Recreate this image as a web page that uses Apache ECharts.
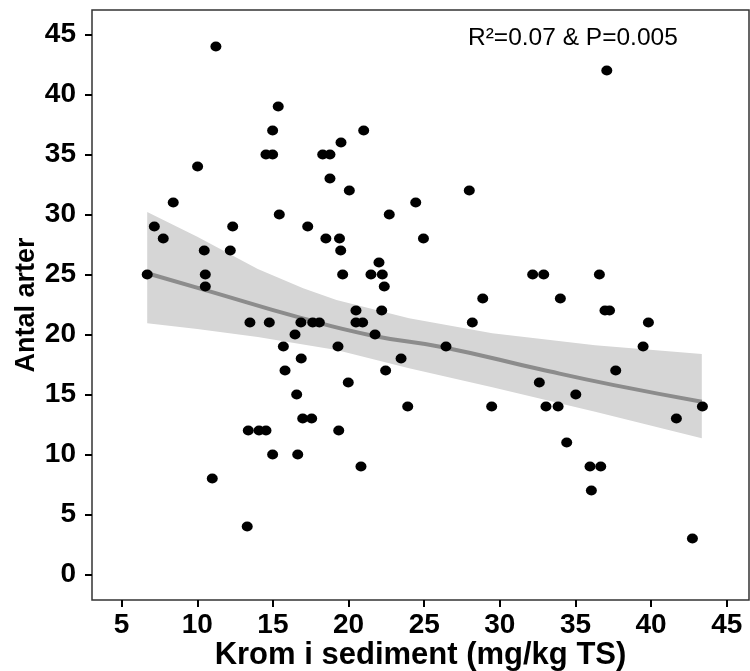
<!DOCTYPE html>
<html>
<head>
<meta charset="utf-8">
<script src="https://cdn.jsdelivr.net/npm/echarts@6/dist/echarts.min.js"></script>
<style>
  html, body { margin: 0; padding: 0; background: #fff; }
  #chart { width: 750px; height: 671px; }
</style>
</head>
<body>
<div id="chart"></div>
<script>
// observed points: chrome in sediment (x) vs number of species (y)
const kromX = [11.23, 15.35, 14.98, 14.54, 14.98, 18.29, 18.77, 18.77, 19.5, 10.02,
  8.41, 7.16, 7.75, 15.42, 12.34, 17.3, 10.46, 12.18, 6.69, 10.53,
  10.53, 18.5, 19.4, 19.48, 19.61, 21.0, 20.05, 24.44, 22.69, 27.98,
  24.95, 22.01, 21.48, 22.23, 22.36, 32.17, 32.9, 28.87, 34.0, 37.07,
  36.58, 13.48, 14.76, 16.85, 17.63, 18.07, 16.46, 15.69, 19.3, 16.87,
  15.8, 16.57, 16.97, 17.56, 13.37, 14.08, 14.54, 19.35, 14.98, 16.64,
  10.99, 13.3, 20.49, 22.19, 20.49, 20.93, 28.18, 21.75, 26.44, 23.47,
  22.45, 19.98, 32.61, 23.91, 29.46, 33.05, 33.85, 35.02, 34.42, 20.82,
  36.95, 37.25, 39.82, 39.47, 37.66, 43.39, 41.67, 35.96, 36.67, 36.05, 42.73];
const antalArter = [44, 39, 37, 35, 35, 35, 35, 33, 36, 34,
  31, 29, 28, 30, 29, 29, 27, 27, 25, 25,
  24, 28, 28, 27, 25, 37, 32, 31, 30, 32,
  28, 26, 25, 25, 24, 25, 25, 23, 23, 42,
  25, 21, 21, 21, 21, 21, 20, 19, 19, 18,
  17, 15, 13, 13, 12, 12, 12, 12, 10, 10,
  8, 4, 22, 22, 21, 21, 21, 20, 19, 18,
  17, 16, 16, 14, 14, 14, 14, 15, 11, 9,
  22, 22, 21, 19, 17, 14, 13, 9, 9, 7, 3];

// fitted curve
const fitX = [6.69, 10.54, 16.79, 21.6, 26.41, 32.66, 37.46, 43.35];
const fitY = [25.1, 23.7, 21.4, 19.9, 18.9, 17.1, 15.8, 14.4];

// confidence band
const bandX = [6.69, 10, 14, 17, 19.2, 24, 29.5, 36.3, 43.35];
const bandUpper = [30.2, 28.15, 25.45, 23.85, 22.87, 21.35, 20.1, 19.1, 18.37];
const bandLower = [20.93, 20.45, 19.8, 19.16, 18.7, 17.18, 15.6, 13.57, 11.35];

const yTickVals = [0, 5, 10, 15, 20, 25, 30, 35, 40, 45];
const xTickVals = [5, 10, 15, 20, 25, 30, 35, 40, 45];
const statText = 'R²=0.07 & P=0.005';

const FONT = '"Liberation Sans", Arial, sans-serif';

let chart = echarts.init(document.getElementById('chart'), null, { renderer: 'canvas' });

const points = kromX.map((x, i) => [x, antalArter[i]]);
const fitData = fitX.map((x, i) => [x, fitY[i]]);
const bandData = bandX.map((x, i) => [x, bandLower[i], bandUpper[i]]);

const option = {
  animation: false,
  backgroundColor: '#fff',
  grid: {
    left: 92, right: 1, top: 10, bottom: 71,
    containLabel: false,
    outerBoundsMode: 'none',
    show: true, borderColor: '#333', borderWidth: 1.5, backgroundColor: 'transparent'
  },
  xAxis: {
    type: 'value',
    min: 3.04, max: 46.47,
    name: 'Krom i sediment (mg/kg TS)',
    nameLocation: 'middle',
    nameGap: 40,
    nameMoveOverlap: false,
    nameTextStyle: { fontFamily: FONT, fontWeight: 'bold', fontSize: 31, color: '#000' },
    axisLine: { show: false, onZero: false },
    axisTick: { show: true, length: 7, lineStyle: { color: '#000', width: 2 }, customValues: xTickVals },
    axisLabel: { fontFamily: FONT, fontWeight: 'bold', fontSize: 28, color: '#000', margin: 11, customValues: xTickVals },
    splitLine: { show: false }
  },
  yAxis: {
    type: 'value',
    min: -2.125, max: 47.04,
    name: 'Antal arter',
    nameLocation: 'middle',
    nameGap: 52,
    nameMoveOverlap: false,
    nameTextStyle: { fontFamily: FONT, fontWeight: 'bold', fontSize: 27, color: '#000' },
    axisLine: { show: false, onZero: false },
    axisTick: { show: true, length: 7, lineStyle: { color: '#000', width: 2 }, customValues: yTickVals },
    axisLabel: { fontFamily: FONT, fontWeight: 'bold', fontSize: 28, color: '#000', margin: 16, customValues: yTickVals },
    splitLine: { show: false }
  },
  graphic: [{
    type: 'text',
    left: 468, top: 26,
    style: { text: statText, fontFamily: FONT, fontSize: 24.5, fill: '#000' }
  }],
  series: [
    {
      type: 'custom',
      data: bandData,
      renderItem: function (params, api) {
        if (params.dataIndex !== 0) return;
        const upper = bandData.map(d => api.coord([d[0], d[2]]));
        const lower = bandData.map(d => api.coord([d[0], d[1]])).reverse();
        return {
          type: 'polygon',
          shape: { points: upper.concat(lower), smooth: 0 },
          style: { fill: '#d6d6d6' }
        };
      },
      z: 1
    },
    {
      type: 'line',
      data: fitData,
      smooth: true,
      symbol: 'none',
      lineStyle: { color: '#8c8c8c', width: 4 },
      z: 2
    },
    {
      type: 'scatter',
      data: points,
      symbol: 'circle',
      symbolSize: [11, 10],
      itemStyle: { color: '#000', opacity: 1 },
      z: 3
    }
  ]
};
chart.setOption(option);
window.addEventListener('resize', chart.resize);
</script>
</body>
</html>
